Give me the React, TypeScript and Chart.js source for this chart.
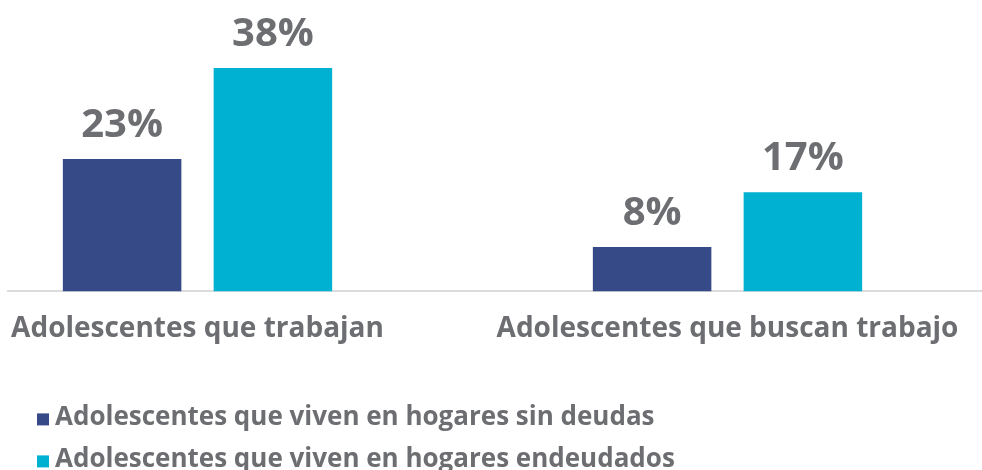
import React, { useEffect, useRef } from "react";
import { Chart, registerables } from "chart.js";

Chart.register(...registerables);

const categories = ["Adolescentes que trabajan", "Adolescentes que buscan trabajo"];
const seriesNames = [
  "Adolescentes que viven en hogares sin deudas",
  "Adolescentes que viven en hogares endeudados",
];
const sinDeudas = [22.7, 7.6];
const endeudados = [38.3, 17.0];
const seriesColors = ["#354a87", "#00b1d1"];

const TEXT = "#6d6e72";
const FONT = "'Open Sans', sans-serif";

const valueLabels = {
  id: "valueLabels",
  afterDatasetsDraw(chart: any) {
    const ctx = chart.ctx;
    ctx.save();
    ctx.font = `700 40px ${FONT}`;
    ctx.fillStyle = TEXT;
    ctx.textAlign = "center";
    ctx.textBaseline = "alphabetic";
    chart.data.datasets.forEach((ds: any, i: number) => {
      const meta = chart.getDatasetMeta(i);
      meta.data.forEach((bar: any, j: number) => {
        const v = ds.data[j].y;
        ctx.fillText(Math.round(v) + "%", bar.x, bar.y - 22);
      });
    });
    ctx.restore();
  },
};

const customLegend = {
  id: "customLegend",
  afterDraw(chart: any) {
    const ctx = chart.ctx;
    const area = chart.chartArea;
    ctx.save();
    ctx.font = `700 26px ${FONT}`;
    ctx.textAlign = "left";
    ctx.textBaseline = "alphabetic";
    chart.data.datasets.forEach((ds: any, i: number) => {
      const base = area.bottom + 134 + i * 42;
      ctx.fillStyle = ds.backgroundColor;
      ctx.fillRect(area.left + 29, base - 12, 12, 12);
      ctx.fillStyle = TEXT;
      ctx.fillText(ds.label, area.left + 47, base);
    });
    ctx.restore();
  },
};

export default function App() {
  const ref = useRef<HTMLCanvasElement | null>(null);

  useEffect(() => {
    if (!ref.current) return;
    const chart = new Chart(ref.current, {
      type: "bar",
      data: {
        datasets: [
          {
            label: seriesNames[0],
            data: categories.map((_, j) => ({ x: j, y: sinDeudas[j] })),
            backgroundColor: seriesColors[0],
            categoryPercentage: 0.569,
            barPercentage: 0.786,
          },
          {
            label: seriesNames[1],
            data: categories.map((_, j) => ({ x: j, y: endeudados[j] })),
            backgroundColor: seriesColors[1],
            categoryPercentage: 0.569,
            barPercentage: 0.786,
          },
        ],
      } as any,
      options: {
        animation: false,
        responsive: false,
        layout: { padding: { left: 8, right: 0, top: 29, bottom: 103 } },
        plugins: {
          legend: { display: false },
          tooltip: { enabled: false },
        },
        scales: {
          x: {
            type: "linear",
            offset: false,
            min: -0.35755,
            max: 1.48019,
            afterBuildTicks: (scale: any) => {
              scale.ticks = categories.map((_, i) => ({ value: i }));
            },
            afterFit: (scale: any) => {
              scale.paddingLeft = 0;
              scale.paddingRight = 0;
            },
            ticks: {
              callback: (_v: any, i: number) => categories[i],
              font: { family: FONT, size: 28, weight: "700" },
              color: TEXT,
              padding: 21,
              maxRotation: 0,
              minRotation: 0,
              autoSkip: false,
            },
            grid: { display: false, drawTicks: false },
            border: { display: true, color: "#dcdcdc", width: 2 },
          },
          y: {
            display: false,
            min: 0,
            max: 45,
          },
        },
      } as any,
      plugins: [valueLabels, customLegend],
    });
    return () => chart.destroy();
  }, []);

  return (
    <div style={{ position: "fixed", left: 0, top: 0, width: 982, height: 470, background: "#fff" }}>
      <canvas ref={ref} width={982} height={470} style={{ display: "block" }} />
    </div>
  );
}
